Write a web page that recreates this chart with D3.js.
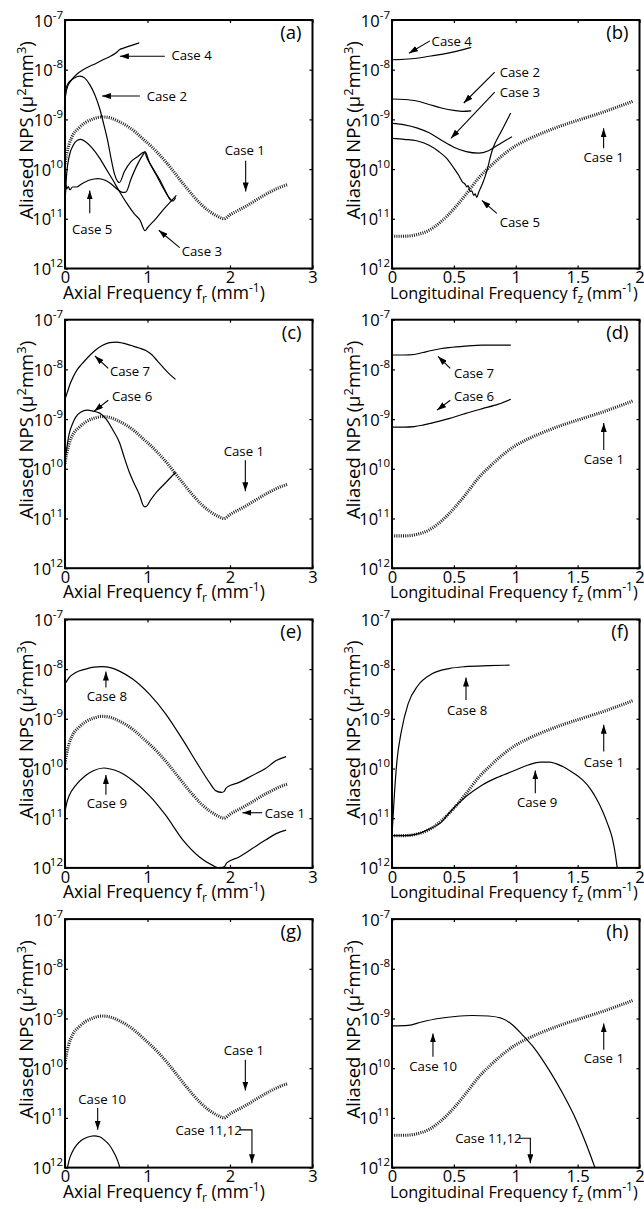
<!DOCTYPE html>
<html>
<head>
<meta charset="utf-8">
<script src="https://cdn.jsdelivr.net/npm/d3@7"></script>
<style>
  body { margin: 0; background: #fff; }
  svg text { font-family: "Open Sans", sans-serif; fill: #000; }
</style>
</head>
<body>
<svg id="fig" width="644" height="1209"></svg>
<script>
// ---- axis ticks ----
const yDecades = [-12, -11, -10, -9, -8, -7];          // log10 of NPS
const axialTicks = [0, 1, 2, 3];
const axialTickLabels = ["0", "1", "2", "3"];
const longTicks = [0, 0.5, 1, 1.5, 2];
const longTickLabels = ["0", "0.5", "1", "1.5", "2"];

// ---- series: [frequency (mm^-1), log10 aliased NPS] ----
const case1Axial = [[0,-9.9],[0.02,-9.7],[0.05,-9.5],[0.1,-9.3],[0.17,-9.17],[0.25,-9.06],[0.34,-8.99],[0.45,-8.95],[0.55,-8.97],[0.65,-9.04],[0.75,-9.13],[0.85,-9.25],[0.95,-9.4],[1.05,-9.55],[1.15,-9.72],[1.25,-9.91],[1.35,-10.12],[1.45,-10.33],[1.55,-10.53],[1.65,-10.71],[1.75,-10.85],[1.85,-10.95],[1.93,-11.0],[2.0,-10.92],[2.1,-10.83],[2.2,-10.74],[2.3,-10.64],[2.4,-10.54],[2.5,-10.45],[2.6,-10.37],[2.7,-10.31]];
const case1Long = [[0,-11.35],[0.1,-11.35],[0.2,-11.32],[0.3,-11.23],[0.4,-11.05],[0.5,-10.8],[0.6,-10.5],[0.7,-10.18],[0.8,-9.93],[0.9,-9.71],[1.0,-9.53],[1.1,-9.4],[1.2,-9.29],[1.3,-9.19],[1.4,-9.1],[1.5,-9.02],[1.6,-8.94],[1.7,-8.86],[1.8,-8.77],[1.9,-8.68],[1.95,-8.63]];

const aCase4 = [[0,-8.45],[0.03,-8.3],[0.08,-8.2],[0.15,-8.08],[0.22,-8.0],[0.3,-7.93],[0.38,-7.87],[0.46,-7.8],[0.54,-7.74],[0.62,-7.66],[0.66,-7.6],[0.7,-7.57],[0.79,-7.52],[0.9,-7.46]];
const aCase2 = [[0,-8.6],[0.02,-8.4],[0.06,-8.25],[0.12,-8.16],[0.18,-8.13],[0.24,-8.17],[0.3,-8.3],[0.36,-8.5],[0.42,-8.78],[0.47,-9.1],[0.52,-9.45],[0.56,-9.8],[0.6,-10.1],[0.64,-10.25],[0.66,-10.27],[0.72,-10.05],[0.8,-9.85],[0.88,-9.75],[0.96,-9.66],[1.0,-9.8],[1.07,-10.0],[1.15,-10.22],[1.22,-10.45],[1.28,-10.62],[1.31,-10.64],[1.34,-10.57]];
const aCase3 = [[0,-10.7],[0.02,-10.1],[0.05,-9.75],[0.1,-9.52],[0.15,-9.42],[0.19,-9.4],[0.25,-9.45],[0.33,-9.58],[0.42,-9.78],[0.5,-10.0],[0.58,-10.22],[0.66,-10.45],[0.75,-10.69],[0.84,-10.9],[0.91,-11.03],[0.97,-11.24],[1.0,-11.18],[1.1,-11.0],[1.2,-10.8],[1.3,-10.62],[1.35,-10.53]];
const aCase5 = [[0,-10.9],[0.01,-10.3],[0.02,-10.4],[0.04,-10.35],[0.06,-10.42],[0.09,-10.36],[0.14,-10.36],[0.2,-10.3],[0.3,-10.22],[0.4,-10.19],[0.48,-10.22],[0.56,-10.3],[0.63,-10.4],[0.7,-10.47],[0.74,-10.46],[0.8,-10.2],[0.88,-9.9],[0.95,-9.7],[0.97,-9.65],[1.02,-9.85],[1.1,-10.1],[1.18,-10.35],[1.25,-10.55],[1.3,-10.65]];

const bCase4 = [[0,-7.8],[0.1,-7.79],[0.2,-7.77],[0.3,-7.73],[0.4,-7.69],[0.5,-7.64],[0.64,-7.55]];
const bCase2 = [[0,-8.59],[0.1,-8.6],[0.2,-8.63],[0.3,-8.7],[0.4,-8.77],[0.5,-8.82],[0.57,-8.84],[0.64,-8.83]];
const bCase3 = [[0,-9.08],[0.1,-9.11],[0.2,-9.17],[0.3,-9.27],[0.4,-9.42],[0.5,-9.56],[0.6,-9.65],[0.7,-9.68],[0.78,-9.63],[0.86,-9.51],[0.92,-9.42],[0.97,-9.35]];
const bCase5 = [[0,-9.38],[0.1,-9.4],[0.2,-9.43],[0.3,-9.52],[0.38,-9.65],[0.44,-9.78],[0.5,-9.98],[0.54,-10.13],[0.57,-10.26],[0.59,-10.3],[0.605,-10.36],[0.615,-10.33],[0.63,-10.45],[0.645,-10.44],[0.66,-10.53],[0.672,-10.5],[0.685,-10.57],[0.7,-10.47],[0.73,-10.3],[0.76,-10.09],[0.81,-9.62],[0.89,-9.21],[0.96,-8.87]];

const cCase7 = [[0,-8.6],[0.03,-8.45],[0.06,-8.3],[0.1,-8.15],[0.15,-8.0],[0.2,-7.9],[0.27,-7.77],[0.35,-7.64],[0.45,-7.52],[0.54,-7.46],[0.62,-7.45],[0.7,-7.47],[0.8,-7.52],[0.9,-7.57],[0.98,-7.62],[1.05,-7.7],[1.12,-7.83],[1.2,-7.98],[1.27,-8.1],[1.34,-8.2]];
const cCase6 = [[0,-9.85],[0.02,-9.6],[0.05,-9.3],[0.09,-9.1],[0.13,-8.96],[0.19,-8.86],[0.27,-8.82],[0.34,-8.84],[0.42,-8.88],[0.5,-9.0],[0.58,-9.22],[0.66,-9.47],[0.72,-9.78],[0.78,-10.07],[0.84,-10.3],[0.9,-10.51],[0.96,-10.76],[0.98,-10.76],[1.04,-10.62],[1.12,-10.45],[1.22,-10.28],[1.34,-10.07]];

const dCase7 = [[0,-7.71],[0.1,-7.71],[0.18,-7.7],[0.25,-7.66],[0.32,-7.62],[0.4,-7.58],[0.46,-7.56],[0.59,-7.53],[0.73,-7.51],[0.86,-7.51],[0.96,-7.51]];
const dCase6 = [[0,-9.16],[0.1,-9.16],[0.18,-9.15],[0.25,-9.12],[0.32,-9.08],[0.4,-9.03],[0.46,-8.99],[0.59,-8.89],[0.73,-8.79],[0.86,-8.7],[0.96,-8.6]];

const eCase8 = [[0,-8.3],[0.05,-8.17],[0.13,-8.07],[0.25,-8.0],[0.35,-7.96],[0.45,-7.95],[0.55,-7.97],[0.66,-8.04],[0.82,-8.2],[1.02,-8.5],[1.22,-8.9],[1.43,-9.43],[1.63,-9.97],[1.75,-10.28],[1.83,-10.45],[1.9,-10.48],[1.93,-10.46],[1.95,-10.4],[1.97,-10.37],[2.11,-10.28],[2.27,-10.14],[2.43,-10.0],[2.56,-9.84],[2.68,-9.76]];
const eCase9 = [[0,-10.87],[0.02,-10.7],[0.05,-10.55],[0.13,-10.34],[0.25,-10.14],[0.35,-10.04],[0.47,-9.99],[0.55,-10.01],[0.66,-10.07],[0.82,-10.24],[1.02,-10.54],[1.22,-10.94],[1.43,-11.44],[1.63,-11.78],[1.79,-11.95],[1.87,-12.0],[1.93,-11.98],[1.96,-11.9],[2.11,-11.78],[2.27,-11.61],[2.43,-11.44],[2.56,-11.31],[2.68,-11.24]];

const fCase8 = [[0,-11.35],[0.008,-11.0],[0.02,-10.5],[0.04,-9.85],[0.076,-9.25],[0.13,-8.7],[0.21,-8.33],[0.32,-8.1],[0.46,-7.99],[0.59,-7.95],[0.78,-7.93],[0.95,-7.92]];
const fCase9 = [[0,-11.35],[0.1,-11.35],[0.2,-11.32],[0.3,-11.22],[0.4,-11.08],[0.46,-10.9],[0.6,-10.56],[0.73,-10.33],[0.86,-10.17],[1.0,-10.03],[1.1,-9.93],[1.2,-9.87],[1.27,-9.87],[1.38,-9.96],[1.46,-10.08],[1.54,-10.23],[1.6,-10.4],[1.65,-10.6],[1.7,-10.85],[1.74,-11.1],[1.78,-11.4],[1.8,-11.65],[1.82,-12.0]];

const gCase10 = [[0.03,-12.0],[0.05,-11.85],[0.09,-11.68],[0.14,-11.55],[0.2,-11.45],[0.27,-11.39],[0.35,-11.36],[0.42,-11.38],[0.48,-11.45],[0.54,-11.55],[0.6,-11.72],[0.64,-11.87],[0.665,-12.0]];
const hCase10 = [[0,-9.15],[0.13,-9.14],[0.24,-9.07],[0.375,-9.0],[0.51,-8.96],[0.65,-8.94],[0.78,-8.95],[0.89,-9.0],[0.97,-9.12],[1.05,-9.32],[1.16,-9.63],[1.27,-10.04],[1.38,-10.51],[1.49,-11.05],[1.57,-11.53],[1.64,-12.0]];

// ---- panel layout ----
const W = 247.5, H = 248.5;
const colLeft = [65, 392];
const rowTop = [20, 319.7, 619.4, 919.1];

// notes: label position and arrow path, both in [frequency, log10 NPS]
const panels = [
  { tag: "(a)", col: 0, row: 0, axis: "axial",
    curves: [{ pts: case1Axial, ref: true }, { pts: aCase4 }, { pts: aCase2 }, { pts: aCase3 }, { pts: aCase5 }],
    notes: [
      { text: "Case 4", at: [1.29, -7.81], path: [[1.21, -7.73], [0.665, -7.73]] },
      { text: "Case 2", at: [0.99, -8.63], path: [[0.907, -8.53], [0.448, -8.53]] },
      { text: "Case 1", at: [1.935, -9.72], path: [[2.19, -9.83], [2.19, -10.45]] },
      { text: "Case 5", at: [0.085, -11.31], path: [[0.30, -10.89], [0.30, -10.43]] },
      { text: "Case 3", at: [1.415, -11.74], path: [[1.39, -11.58], [1.137, -11.23]] }
    ] },
  { tag: "(b)", col: 1, row: 0, axis: "long",
    curves: [{ pts: case1Long, ref: true }, { pts: bCase4 }, { pts: bCase2 }, { pts: bCase3 }, { pts: bCase5 }],
    notes: [
      { text: "Case 4", at: [0.32, -7.52], path: [[0.306, -7.42], [0.137, -7.67]] },
      { text: "Case 2", at: [0.87, -8.15], path: [[0.83, -8.05], [0.58, -8.67]] },
      { text: "Case 3", at: [0.87, -8.55], path: [[0.83, -8.45], [0.476, -9.38]] },
      { text: "Case 1", at: [1.548, -9.86], path: [[1.71, -9.58], [1.71, -9.18]] },
      { text: "Case 5", at: [0.87, -11.17], path: [[0.847, -10.89], [0.726, -10.63]] }
    ] },
  { tag: "(c)", col: 0, row: 1, axis: "axial",
    curves: [{ pts: case1Axial, ref: true }, { pts: cCase7 }, { pts: cCase6 }],
    notes: [
      { text: "Case 7", at: [0.544, -8.13], path: [[0.524, -7.98], [0.363, -7.73]] },
      { text: "Case 6", at: [0.569, -8.64], path: [[0.524, -8.62], [0.354, -8.84]] },
      { text: "Case 1", at: [1.924, -9.74], path: [[2.186, -9.83], [2.186, -10.45]] }
    ] },
  { tag: "(d)", col: 1, row: 1, axis: "long",
    curves: [{ pts: case1Long, ref: true }, { pts: dCase7 }, { pts: dCase6 }],
    notes: [
      { text: "Case 7", at: [0.5, -8.17], path: [[0.471, -7.98], [0.372, -7.74]] },
      { text: "Case 6", at: [0.5, -8.64], path: [[0.471, -8.62], [0.364, -8.82]] },
      { text: "Case 1", at: [1.549, -9.90], path: [[1.711, -9.62], [1.711, -9.08]] }
    ] },
  { tag: "(e)", col: 0, row: 2, axis: "axial",
    curves: [{ pts: case1Axial, ref: true }, { pts: eCase8 }, { pts: eCase9 }],
    notes: [
      { text: "Case 8", at: [0.263, -8.64], path: [[0.496, -8.37], [0.496, -8.05]] },
      { text: "Case 9", at: [0.263, -10.79], path: [[0.496, -10.53], [0.496, -10.13]] },
      { text: "Case 1", at: [2.42, -11.0], path: [[2.39, -10.89], [2.15, -10.89]] }
    ] },
  { tag: "(f)", col: 1, row: 2, axis: "long",
    curves: [{ pts: case1Long, ref: true }, { pts: fCase8 }, { pts: fCase9 }],
    notes: [
      { text: "Case 8", at: [0.444, -8.92], path: [[0.598, -8.62], [0.598, -8.17]] },
      { text: "Case 1", at: [1.549, -9.97], path: [[1.711, -9.66], [1.711, -9.12]] },
      { text: "Case 9", at: [1.01, -10.77], path: [[1.158, -10.50], [1.158, -10.04]] }
    ] },
  { tag: "(g)", col: 0, row: 3, axis: "axial",
    curves: [{ pts: case1Axial, ref: true }, { pts: gCase10 }],
    notes: [
      { text: "Case 10", at: [0.161, -10.72], path: [[0.396, -10.8], [0.396, -11.24]] },
      { text: "Case 1", at: [1.924, -9.74], path: [[2.186, -9.83], [2.186, -10.45]] },
      { text: "Case 11,12", at: [1.339, -11.34], path: [[2.117, -11.24], [2.266, -11.24], [2.266, -11.91]] }
    ] },
  { tag: "(h)", col: 1, row: 3, axis: "long",
    curves: [{ pts: case1Long, ref: true }, { pts: hCase10 }],
    notes: [
      { text: "Case 10", at: [0.14, -10.05], path: [[0.331, -9.77], [0.331, -9.30]] },
      { text: "Case 1", at: [1.549, -9.90], path: [[1.711, -9.63], [1.711, -9.10]] },
      { text: "Case 11,12", at: [0.511, -11.50], path: [[1.024, -11.41], [1.118, -11.41], [1.118, -11.91]] }
    ] }
];

const svg = d3.select("#fig");
const defs = svg.append("defs");
defs.append("marker")
  .attr("id", "head").attr("viewBox", "0 0 10 10").attr("refX", 10).attr("refY", 5)
  .attr("markerWidth", 9).attr("markerHeight", 6).attr("markerUnits", "userSpaceOnUse")
  .attr("preserveAspectRatio", "none").attr("orient", "auto")
  .append("path").attr("d", "M0,0L10,5L0,10Z").attr("fill", "#000");

const tickFont = 16.5, supFont = 11.5, noteFont = 13.2;

panels.forEach((p, i) => {
  const L = colLeft[p.col], T = rowTop[p.row];
  const axial = p.axis === "axial";
  const ticks = axial ? axialTicks : longTicks;
  const tickLabels = axial ? axialTickLabels : longTickLabels;

  const x = d3.scaleLinear().domain([0, axial ? 3 : 2]).range([0, W]);
  const y = d3.scaleLog().domain([1e-12, 1e-7]).range([H, 0]);
  const yv = e => y(Math.pow(10, e));

  const g = svg.append("g").attr("transform", `translate(${L},${T})`);

  const clipId = "plot-clip-" + i;
  defs.append("clipPath").attr("id", clipId)
    .append("rect").attr("width", W).attr("height", H);

  const line = d3.line().x(d => x(d[0])).y(d => yv(d[1])).curve(d3.curveMonotoneX);
  const plot = g.append("g").attr("clip-path", `url(#${clipId})`);
  p.curves.forEach(c => {
    plot.append("path")
      .attr("d", line(c.pts))
      .attr("fill", "none")
      .attr("stroke", c.ref ? "#1c1c1c" : "#000")
      .attr("stroke-width", c.ref ? 3.1 : 1.2)
      .attr("stroke-dasharray", c.ref ? "1 1.2" : null);
  });

  // inward ticks on all four sides
  const bottom = g.append("g").attr("transform", `translate(0,${H})`)
    .call(d3.axisBottom(x).tickValues(ticks).tickSizeInner(-3).tickSizeOuter(0).tickPadding(3)
      .tickFormat((d, j) => tickLabels[j]));
  bottom.attr("font-size", tickFont).attr("font-family", null);
  g.append("g")
    .call(d3.axisTop(x).tickValues(ticks).tickSizeInner(-3).tickSizeOuter(0).tickFormat(""));
  const yTickVals = yDecades.map(e => Math.pow(10, e));
  const left = g.append("g")
    .call(d3.axisLeft(y).tickValues(yTickVals).tickSizeInner(-3).tickSizeOuter(0).tickFormat(""));
  g.append("g").attr("transform", `translate(${W},0)`)
    .call(d3.axisRight(y).tickValues(yTickVals).tickSizeInner(-3).tickSizeOuter(0).tickFormat(""));
  g.selectAll(".domain").remove();
  g.selectAll(".tick line").attr("stroke-width", 1.2);

  // decade labels: "10" with a raised exponent, right-aligned to the frame
  left.selectAll(".tick text").remove();
  left.selectAll(".tick").each(function (d, j) {
    const e = String(yDecades[j]);
    const t = d3.select(this).append("text")
      .attr("x", -2).attr("y", 6).attr("text-anchor", "end").attr("font-size", tickFont);
    t.append("tspan").text("10");
    t.append("tspan").attr("font-size", supFont).attr("dy", -8)
      .attr("dx", e.length > 2 ? -5 : 0).text(e);
  });

  // frame
  g.append("rect").attr("width", W).attr("height", H)
    .attr("fill", "none").attr("stroke", "#000").attr("stroke-width", 2);

  // axis titles
  const xFont = axial ? 17.5 : 16.3;
  const xl = g.append("text").attr("x", -2).attr("y", H + 30).attr("font-size", xFont);
  xl.append("tspan").text(axial ? "Axial Frequency f" : "Longitudinal Frequency f");
  xl.append("tspan").attr("font-size", supFont + 0.5).attr("dy", 4).text(axial ? "r" : "z");
  xl.append("tspan").attr("dy", -4).text(" (mm");
  xl.append("tspan").attr("font-size", supFont + 0.5).attr("dy", -7).text("-1");
  xl.append("tspan").attr("dy", 7).text(")");

  const yl = g.append("text")
    .attr("transform", `translate(-32,${H / 2 - 14}) rotate(-90)`)
    .attr("text-anchor", "middle").attr("font-size", 18.5);
  yl.append("tspan").text("Aliased NPS (\u03bc");
  yl.append("tspan").attr("font-size", 13).attr("dy", -7.5).text("2");
  yl.append("tspan").attr("dy", 7.5).text("mm");
  yl.append("tspan").attr("font-size", 13).attr("dy", -7.5).text("3");
  yl.append("tspan").attr("dy", 7.5).text(")");

  // panel tag
  g.append("text").attr("x", W - 11).attr("y", 19).attr("text-anchor", "end")
    .attr("font-size", 18.5).text(p.tag);

  // case labels with arrows
  p.notes.forEach(n => {
    g.append("text").attr("x", x(n.at[0])).attr("y", yv(n.at[1]))
      .attr("font-size", noteFont).text(n.text);
    g.append("path")
      .attr("d", d3.line()(n.path.map(q => [x(q[0]), yv(q[1])])))
      .attr("fill", "none").attr("stroke", "#000").attr("stroke-width", 1.1)
      .attr("marker-end", "url(#head)");
  });
});
</script>
</body>
</html>
